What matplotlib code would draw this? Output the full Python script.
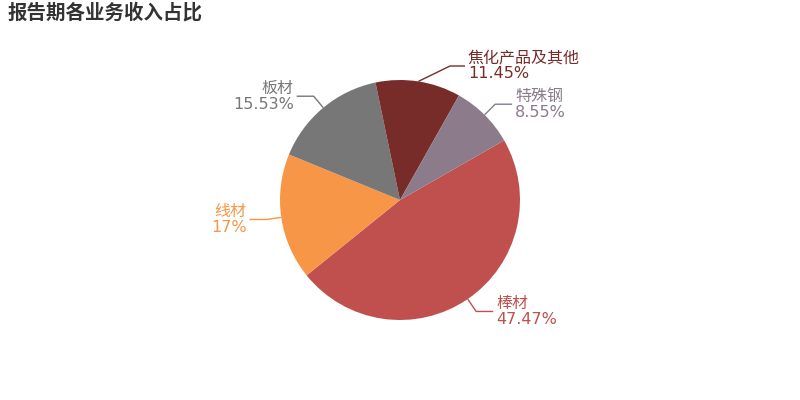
import matplotlib
matplotlib.use('Agg')
import matplotlib.pyplot as plt
import numpy as np

plt.rcParams['font.family'] = ['DejaVu Sans', 'Noto Sans CJK SC']

title = '报告期各业务收入占比'
categories = ['棒材', '线材', '板材', '焦化产品及其他', '特殊钢']
shares = [47.47, 17, 15.53, 11.45, 8.55]
share_labels = ['47.47%', '17%', '15.53%', '11.45%', '8.55%']
colors = ['#c0504d', '#f79646', '#777777', '#772c2a', '#8b7b8b']

W, H = 800, 400
fig = plt.figure(figsize=(8, 4), dpi=100)
ax = fig.add_axes([0, 0, 1, 1])
cx, cy, R = 400, H - 200, 120
wedges, _ = ax.pie(shares, colors=colors, startangle=29.8, counterclock=False,
                   center=(cx, cy), radius=R, wedgeprops=dict(linewidth=0),
                   frame=True)
ax.set_xlim(0, W)
ax.set_ylim(0, H)
ax.set_aspect('equal')
ax.axis('off')

# label layout (elbow override for the label moved to avoid overlap)
elbow_override = {3: (450, H - 66)}
L1, L2, gap = 15, 17, 3
for i, (w, name, pct, col) in enumerate(zip(wedges, categories, share_labels, colors)):
    th = np.deg2rad((w.theta1 + w.theta2) / 2)
    d = np.array([np.cos(th), np.sin(th)])
    p0 = np.array([cx, cy]) + R * d
    p1 = np.array(elbow_override.get(i, np.array([cx, cy]) + (R + L1) * d), dtype=float)
    side = 1 if d[0] >= 0 else -1
    p2 = p1 + np.array([side * (15 if i == 3 else L2), 0])
    ax.plot([p0[0], p1[0], p2[0]], [p0[1], p1[1], p2[1]], color=col, lw=1,
            solid_capstyle='butt')
    ha = 'left' if side > 0 else 'right'
    tx = p2[0] + side * gap
    ax.text(tx, p2[1] + 8, name, color=col, fontsize=11.5, ha=ha, va='center',
            family=['Noto Sans CJK SC', 'DejaVu Sans'])
    ax.text(tx, p2[1] - 8, pct, color=col, fontsize=11.5, ha=ha, va='center')

fig.text(8 / W, 1 - 13 / H, title, fontsize=14, fontweight='bold', color='#333333',
         ha='left', va='center', family=['Noto Sans CJK SC', 'DejaVu Sans'])

fig.savefig('out.png', dpi=100)
